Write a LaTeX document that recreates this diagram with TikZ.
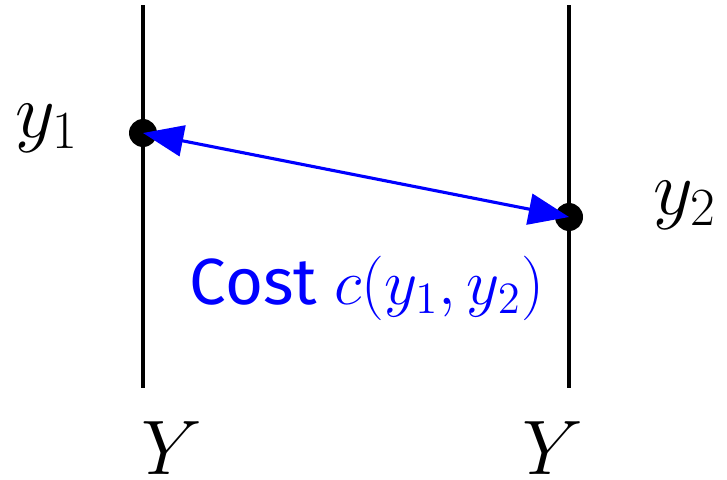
\documentclass[tikz,border=0pt]{standalone}
\usepackage{fontspec}
\setsansfont{Fira Sans}
\usetikzlibrary{arrows.meta}
\tikzset{
  dot/.style={circle,fill=black,inner sep=0pt,minimum size=9pt},
  biglabel/.style={inner sep=0pt,font=\fontsize{23}{27}\selectfont},
  costlabel/.style={text=blue,font=\fontsize{21}{25}\selectfont}
}
\begin{document}
\begin{tikzpicture}[x=0.0113cm,y=-0.0113cm,>={Triangle[length=13pt,width=10pt]}]
  \useasboundingbox (0,0) rectangle (727,479);
  % the two copies of Y
  \foreach \name/\X in {left/143,right/569}{
    \coordinate (\name top) at (\X,5);
    \coordinate (\name bot) at (\X,388);
    \draw[line width=1pt] (\name top) -- (\name bot);
  }
  \node[dot] (p1) at (143,133) {};
  \node[dot] (p2) at (569,217) {};
  \draw[blue,line width=1pt,<->] (p1.center) -- (p2.center);
  \node[biglabel] (ly1) at (47,128) {$y_1$};
  \node[biglabel] (ly2) at (685,205) {$y_2$};
  \node[biglabel] (lYa) at (172,448) {$Y$};
  \node[biglabel] (lYb) at (553,448) {$Y$};
  \node[costlabel] (cost) at (367,288) {\sffamily Cost $c(y_1,y_2)$};
\end{tikzpicture}
\end{document}
